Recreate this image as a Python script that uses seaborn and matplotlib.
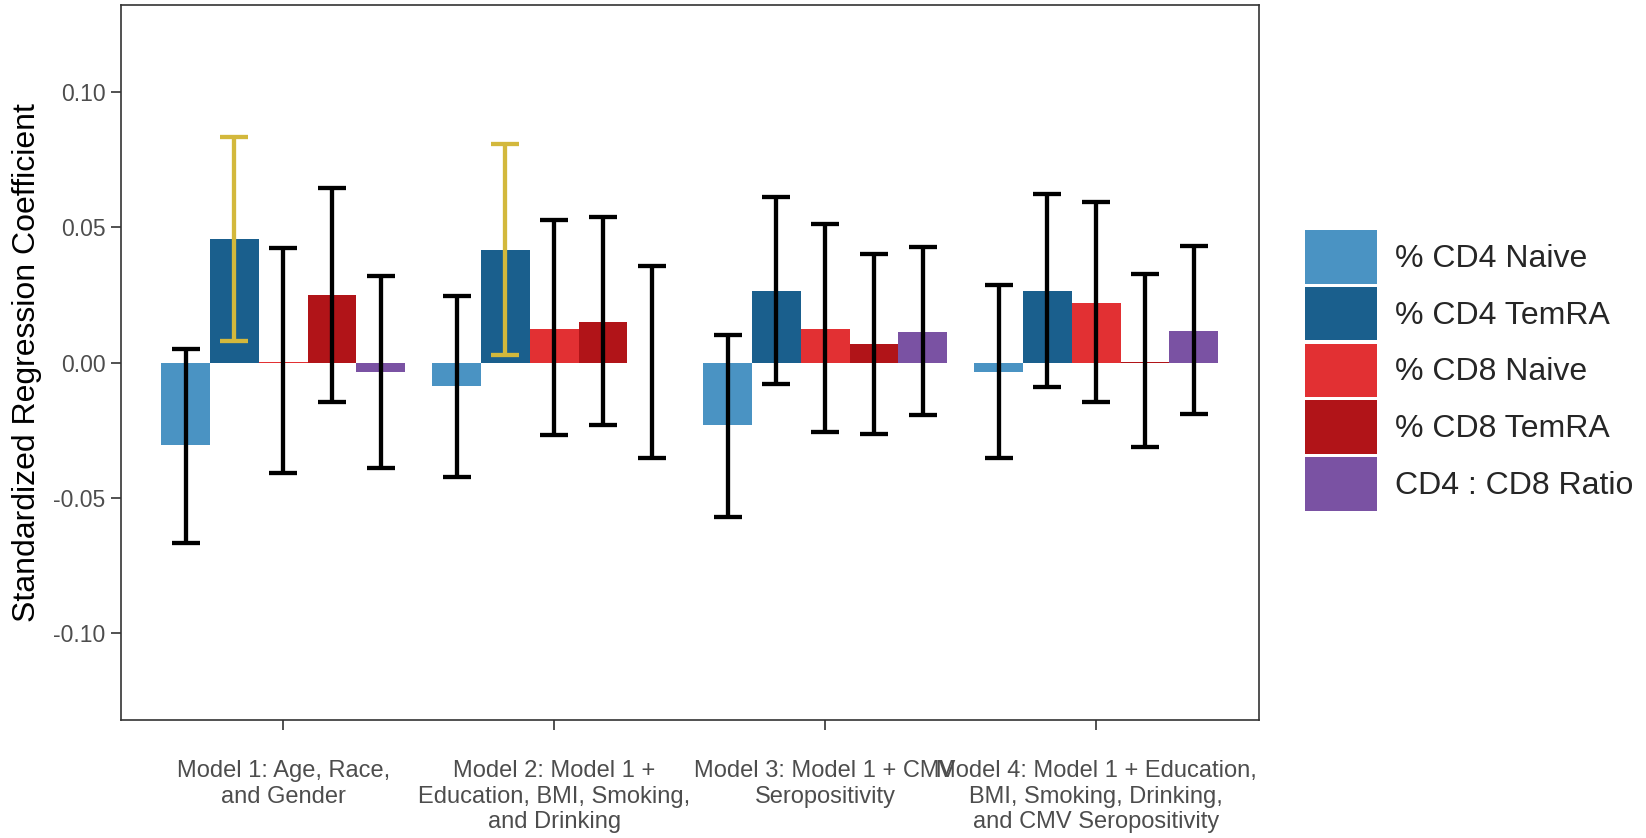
# coefficient bar chart with confidence intervals

import pandas as pd
import numpy as np
import matplotlib.pyplot as plt
import seaborn as sns

# data

models = ['Model 1: Age, Race,\nand Gender',
          'Model 2: Model 1 +\nEducation, BMI, Smoking,\nand Drinking',
          'Model 3: Model 1 + CMV\nSeropositivity',
          'Model 4: Model 1 + Education,\nBMI, Smoking, Drinking,\nand CMV Seropositivity']

measures = ['% CD4 Naive', '% CD4 TemRA', '% CD8 Naive', '% CD8 TemRA', 'CD4 : CD8 Ratio']

cd4_naive = [-0.0305, -0.0086, -0.0232, -0.0036]
cd4_naive_lo = [-0.0665, -0.0422, -0.0572, -0.0354]
cd4_naive_hi = [0.0051, 0.0247, 0.0102, 0.0285]

cd4_temra = [0.0458, 0.0417, 0.0263, 0.0266]
cd4_temra_lo = [0.0080, 0.0028, -0.0079, -0.0089]
cd4_temra_hi = [0.0835, 0.0807, 0.0610, 0.0624]

cd8_naive = [0.0004, 0.0125, 0.0125, 0.0220]
cd8_naive_lo = [-0.0406, -0.0269, -0.0255, -0.0144]
cd8_naive_hi = [0.0423, 0.0528, 0.0512, 0.0592]

cd8_temra = [0.0248, 0.0149, 0.0068, 0.0004]
cd8_temra_lo = [-0.0144, -0.0231, -0.0264, -0.0313]
cd8_temra_hi = [0.0645, 0.0536, 0.0402, 0.0329]

ratio = [-0.0034, 0.0, 0.0114, 0.0117]
ratio_lo = [-0.0391, -0.0353, -0.0193, -0.0190]
ratio_hi = [0.0321, 0.0356, 0.0427, 0.0429]

# which intervals are highlighted (significant)
highlight = [[False] * 4, [True, True, False, False], [False] * 4, [False] * 4, [False] * 4]

colors = ['#4a93c3', '#1a5f8d', '#e23033', '#b11418', '#7a52a3']

# build long table

vals = [cd4_naive, cd4_temra, cd8_naive, cd8_temra, ratio]
los = [cd4_naive_lo, cd4_temra_lo, cd8_naive_lo, cd8_temra_lo, ratio_lo]
his = [cd4_naive_hi, cd4_temra_hi, cd8_naive_hi, cd8_temra_hi, ratio_hi]

rows = []
for m_i, meas in enumerate(measures):
    for k, mod in enumerate(models):
        rows.append({'model': mod, 'measure': meas, 'coef': vals[m_i][k],
                     'lo': los[m_i][k], 'hi': his[m_i][k], 'sig': highlight[m_i][k]})
df = pd.DataFrame(rows)

# plot

sns.set_theme(style = 'white')
plt.rcParams['font.family'] = ['Liberation Sans', 'DejaVu Sans']

fig = plt.figure(figsize = (16.46, 8.38), dpi = 100)
ax = fig.add_axes([0.0733, 0.1408, 0.6914, 0.853])

sns.barplot(data = df, x = 'model', y = 'coef', hue = 'measure', order = models,
            hue_order = measures, palette = colors, width = 0.9, saturation = 1,
            errorbar = None, linewidth = 0, ax = ax, legend = False)

# error bars at bar centres (patches come out hue by hue)
bars = [p for p in ax.patches if p.get_width() > 0][:len(df)]
for p, (_, r) in zip(bars, df.iterrows()):
    xc = p.get_x() + p.get_width() / 2
    col = '#d3b83c' if r['sig'] else 'black'
    ax.errorbar(xc, r['coef'], yerr = [[r['coef'] - r['lo']], [r['hi'] - r['coef']]],
                fmt = 'none', ecolor = col, elinewidth = 3.1, capsize = 10, capthick = 3.1, zorder = 5)

ax.set_xlim(-0.6, 3.6)
ax.set_ylim(-0.132, 0.132)
ax.set_yticks([-0.10, -0.05, 0.0, 0.05, 0.10])
ax.set_yticklabels(['-0.10', '-0.05', '0.00', '0.05', '0.10'])
ax.set_xlabel('')
ax.set_ylabel('Standardized Regression Coefficient', fontsize = 23, color = 'black', labelpad = 8)

for t in ax.get_xticklabels():
    t.set_multialignment('center')
    t.set_linespacing(1.2)
ax.tick_params(axis = 'x', labelsize = 17, labelcolor = '#4d4d4d', length = 7, width = 1.2,
               color = '#333333', pad = 22, bottom = True)
ax.tick_params(axis = 'y', labelsize = 16.5, labelcolor = '#4d4d4d', length = 7, width = 1.2,
               color = '#333333', pad = 4, left = True)

for s in ax.spines.values():
    s.set_color('#333333')
    s.set_linewidth(1.2)

# legend with big square keys
handles = [plt.Rectangle((0, 0), 1, 1, facecolor = c, edgecolor = 'none') for c in colors]
fig.legend(handles, measures, loc = 'center left', bbox_to_anchor = (0.793, 0.558),
           frameon = False, fontsize = 23, handlelength = 2.25, handleheight = 2.2,
           labelspacing = 0.1, handletextpad = 0.55, borderpad = 0, borderaxespad = 0)

plt.savefig('out.png', dpi = 100)
